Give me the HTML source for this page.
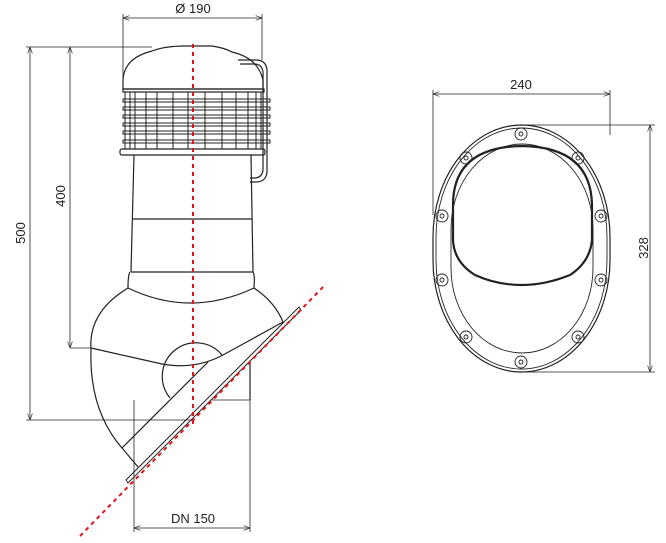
<!DOCTYPE html>
<html><head><style>body{margin:0;background:#fff}svg{display:block}</style></head><body>
<svg width="666" height="543" viewBox="0 0 666 543" xmlns="http://www.w3.org/2000/svg" font-family="Liberation Sans, sans-serif">
<defs><marker id="a" markerWidth="8" markerHeight="6" refX="8" refY="3" orient="auto-start-reverse"><path d="M0,0 L8,3 L0,6" fill="none" stroke="#222" stroke-width="0.8"/></marker></defs>
<g stroke="#222" stroke-width="0.8" fill="none">
<line x1="123" y1="18" x2="262" y2="18" marker-start="url(#a)" marker-end="url(#a)"/>
<line x1="123" y1="14" x2="123" y2="85"/><line x1="262" y1="14" x2="262" y2="60"/>
<line x1="26" y1="47" x2="152" y2="47"/>
<line x1="30" y1="47" x2="30" y2="420" marker-start="url(#a)" marker-end="url(#a)"/>
<line x1="26" y1="420" x2="190" y2="420"/>
<line x1="70" y1="47" x2="70" y2="348" marker-start="url(#a)" marker-end="url(#a)"/>
<line x1="70" y1="348" x2="91" y2="348"/>
<line x1="134" y1="528" x2="250" y2="528" marker-start="url(#a)" marker-end="url(#a)"/>
<line x1="134" y1="400" x2="134" y2="532"/><line x1="250" y1="362" x2="250" y2="532"/>
<line x1="212" y1="400" x2="250" y2="400"/>
</g>
<g stroke="#222" stroke-width="1.2" fill="none">
<path d="M152,51 Q165,46 185,46 L212,46 Q225,48 232,52 Q258,58 263,80 L263,89 L123,89 L123,80 Q124,58 152,51 Z"/>
<rect x="123" y="89" width="141" height="3"/>
<g stroke-width="1">
<line x1="125" y1="92" x2="125" y2="149"/><line x1="130" y1="92" x2="130" y2="149"/><line x1="135" y1="92" x2="135" y2="149"/>
<line x1="146" y1="92" x2="146" y2="149"/><line x1="157" y1="92" x2="157" y2="149"/><line x1="173" y1="92" x2="173" y2="149"/>
<line x1="188" y1="92" x2="188" y2="149"/><line x1="205" y1="92" x2="205" y2="149"/><line x1="222" y1="92" x2="222" y2="149"/>
<line x1="236" y1="92" x2="236" y2="149"/><line x1="248" y1="92" x2="248" y2="149"/><line x1="256" y1="92" x2="256" y2="149"/><line x1="261" y1="92" x2="261" y2="149"/>
<rect x="123" y="99" width="147" height="3"/><rect x="123" y="107" width="147" height="3"/><rect x="123" y="115" width="147" height="3"/>
<rect x="123" y="123" width="147" height="3"/><rect x="123" y="131" width="147" height="3"/><rect x="123" y="140" width="147" height="3"/>
</g>
<rect x="120" y="149" width="145" height="6" rx="2"/>
<path d="M238,60 L256,60 Q266,60 267,70 L267,172 Q266,182 256,182 L250,182"/>
<path d="M240,64 L254,64 Q262,64 263,72 L263,170 Q262,178 254,178 L250,178"/>
<path d="M134,155 L131,272 M251,155 L253,272"/>
<line x1="133" y1="219" x2="252" y2="219"/>
<path d="M131,272 L253,272 Q255,275 254,288 M130,272 Q128,275 128,288"/>
<path d="M128,288 Q190,318 254,288"/>
<path d="M128,288 Q88,312 91,350 Q89,410 122,448 L138,467"/>
<path d="M254,288 Q275,302 283,322"/>
<path d="M91,348 L162,364 Q195,370 223,355 L283,322"/>
<path d="M222,355 A32,32 0 1 0 170,398"/>
<line x1="122" y1="448" x2="208" y2="362"/>
<line x1="250" y1="362" x2="250" y2="400"/>
<path d="M126,480 L299,307 L301,310 L128,483 Z" stroke-width="1"/>
</g>
<g stroke="#e0141b" stroke-width="2" stroke-dasharray="4,4" fill="none">
<line x1="193" y1="44" x2="193" y2="425"/>
<line x1="80" y1="536" x2="326" y2="284"/>
</g>
<g fill="#222" font-size="13">
<text x="193" y="13" text-anchor="middle">Ø 190</text>
<text x="193" y="523" text-anchor="middle">DN 150</text>
<text transform="translate(25,233) rotate(-90)" text-anchor="middle">500</text>
<text transform="translate(65,196) rotate(-90)" text-anchor="middle">400</text>
<text x="521" y="89" text-anchor="middle">240</text>
<text transform="translate(648,248) rotate(-90)" text-anchor="middle">328</text>
</g>
<g stroke="#222" stroke-width="0.8" fill="none">
<line x1="433" y1="94" x2="610" y2="94" marker-start="url(#a)" marker-end="url(#a)"/>
<line x1="433" y1="90" x2="433" y2="215"/><line x1="610" y1="90" x2="610" y2="135"/>
<line x1="650" y1="125" x2="650" y2="372" marker-start="url(#a)" marker-end="url(#a)"/>
<line x1="521" y1="125" x2="655" y2="125"/><line x1="521" y1="372" x2="655" y2="372"/>
</g>
<g stroke="#222" fill="none">
<rect x="433" y="125" width="177" height="247" rx="88.5" ry="112" stroke-width="1.2"/>
<rect x="436" y="128" width="171" height="241" rx="85.5" ry="109" stroke-width="0.9"/>
<rect x="451" y="144" width="142" height="209" rx="71" ry="85" stroke-width="0.9"/>
<path d="M453,205 Q453,147 522,146 Q591,147 592,205 L592,240 Q590,262 570,275 Q545,285 522,285 Q497,285 475,275 Q454,262 453,240 Z" stroke-width="2.2"/>
<g stroke-width="0.9">
<circle cx="521" cy="134" r="6"/><circle cx="521" cy="134" r="2"/>
<circle cx="466" cy="158" r="6"/><circle cx="466" cy="158" r="2"/>
<circle cx="578" cy="158" r="6"/><circle cx="578" cy="158" r="2"/>
<circle cx="442" cy="216" r="6"/><circle cx="442" cy="216" r="2"/>
<circle cx="601" cy="216" r="6"/><circle cx="601" cy="216" r="2"/>
<circle cx="442" cy="280" r="6"/><circle cx="442" cy="280" r="2"/>
<circle cx="601" cy="280" r="6"/><circle cx="601" cy="280" r="2"/>
<circle cx="466" cy="337" r="6"/><circle cx="466" cy="337" r="2"/>
<circle cx="578" cy="337" r="6"/><circle cx="578" cy="337" r="2"/>
<circle cx="521" cy="362" r="6"/><circle cx="521" cy="362" r="2"/>
</g>
</g>
</svg>
</body></html>
